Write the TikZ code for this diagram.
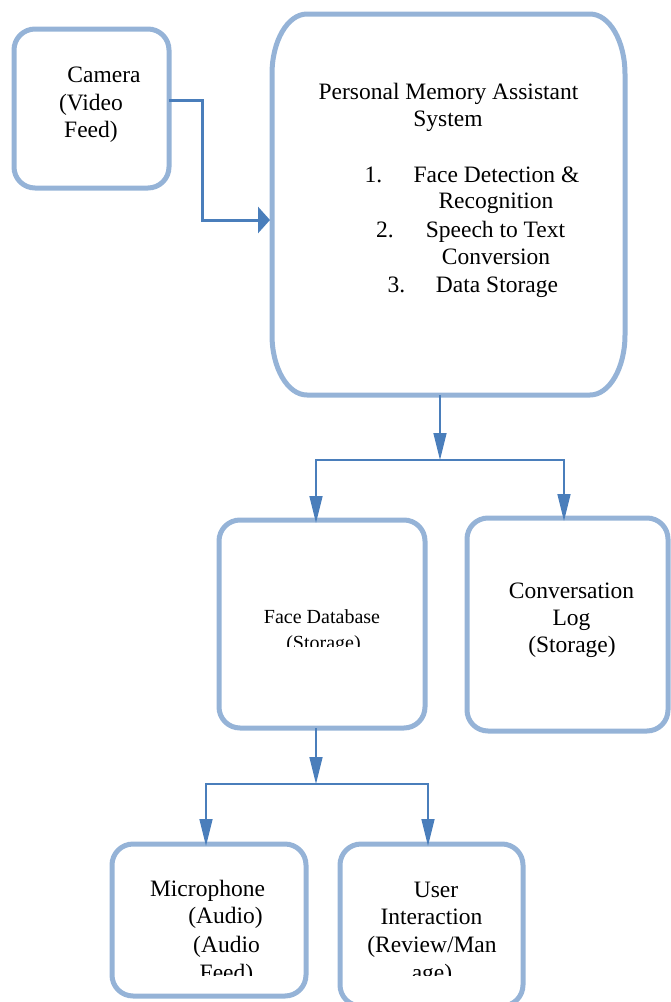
\documentclass[tikz,border=0pt]{standalone}
\usepackage{fontspec}
\setmainfont{Liberation Serif}
\usetikzlibrary{arrows.meta}
\definecolor{boxblue}{HTML}{95B3D7}
\definecolor{linkblue}{HTML}{4A7EBB}
\begin{document}
\begin{tikzpicture}[x=1pt,y=-1pt,
  boxline/.style={draw=boxblue,line width=5pt},
  rbox/.style={boxline,rounded corners=21pt,inner sep=0pt,outer sep=0pt},
  conn/.style={draw=linkblue,line width=1.5pt,-{Triangle[width=13pt,length=27pt]}},
  connplain/.style={draw=linkblue,line width=1.5pt},
  txt/.style={anchor=base,inner sep=0pt,font=\fontsize{23.5}{27}\selectfont},
  stxt/.style={anchor=base,inner sep=0pt,font=\fontsize{20}{24}\selectfont}]
\useasboundingbox (0,0) rectangle (670,1002);
% boxes
\node[rbox,minimum width=155pt,minimum height=159pt] (cam) at (91.5,108.5) {};
\node[inner sep=0pt,outer sep=0pt,minimum width=353pt,minimum height=381pt] (main) at (448.5,204.5) {};
\draw[boxline] ([xshift=35pt]main.north west) -- ([xshift=-35pt]main.north east)
  arc[start angle=90,end angle=0,x radius=35pt,y radius=60pt]
  -- ([yshift=60pt]main.south east)
  arc[start angle=0,end angle=-90,x radius=35pt,y radius=60pt]
  -- ([xshift=35pt]main.south west)
  arc[start angle=270,end angle=180,x radius=35pt,y radius=60pt]
  -- ([yshift=-60pt]main.north west)
  arc[start angle=180,end angle=90,x radius=35pt,y radius=60pt] -- cycle;
\node[rbox,minimum width=206pt,minimum height=208pt] (face) at (322,624) {};
\node[rbox,minimum width=201pt,minimum height=213pt] (conv) at (567.5,624.5) {};
\node[rbox,minimum width=194pt,minimum height=152pt] (mic) at (209,920) {};
\node[rbox,minimum width=183pt,minimum height=162pt] (user) at (431.5,925) {};
% connectors
\draw[draw=linkblue,line width=3pt,-{Triangle[width=26pt,length=12pt]}]
  ([yshift=8.5pt]cam.east) -- ++(33pt,0) |- ([xshift=-2pt,yshift=-15.5pt]main.west);
\coordinate (j1) at (440,460);
\coordinate (j2) at (316,784);
\draw[conn] ([xshift=-8.5pt]main.south) -- (j1);
\draw[conn] (j1) -| ([xshift=-6pt,yshift=-3pt]face.north);
\draw[conn] (j1) -| ([xshift=-3.5pt,yshift=-3pt]conv.north);
\draw[conn] ([xshift=-6pt]face.south) -- (j2);
\draw[conn] (j2) -| ([xshift=-3pt,yshift=-2pt]mic.north);
\draw[conn] (j2) -| ([xshift=-3.5pt,yshift=-2pt]user.north);
% texts
\node[txt] (t1) at (104,82) {Camera};
\node[txt] (t2) at (91,110) {(Video};
\node[txt] (t3) at (91,137) {Feed)};
\node[txt] (t4) at (448.5,99) {Personal Memory Assistant};
\node[txt] (t5) at (448,126) {System};
\node[txt] (t6) at (373.5,182) {1.};
\node[txt] (t7) at (496.5,182) {Face Detection \&};
\node[txt] (t8) at (496,208) {Recognition};
\node[txt] (t9) at (385,237) {2.};
\node[txt] (t10) at (495.5,237) {Speech to Text};
\node[txt] (t11) at (496,264) {Conversion};
\node[txt] (t12) at (396.5,292) {3.};
\node[txt] (t13) at (497,292) {Data Storage};
\node[stxt] (t14) at (322,623) {Face Database};
\begin{scope}
\clip (230,600) rectangle (420,646);
\node[stxt] (t15) at (323.5,649) {(Storage)};
\end{scope}
\node[txt] (t16) at (571.5,598) {Conversation};
\node[txt] (t17) at (571.5,625) {Log};
\node[txt] (t18) at (572,652) {(Storage)};
\node[txt] (t19) at (207.5,896) {Microphone};
\node[txt] (t20) at (225.5,923) {(Audio)};
\node[txt] (t21) at (226.5,952) {(Audio};
\node[txt] (t22) at (432,952) {(Review/Man};
\node[txt] (t23) at (436,897) {User};
\node[txt] (t24) at (431.5,924) {Interaction};
\begin{scope}
\clip (120,958) rectangle (520,975);
\node[txt] (t25) at (226.5,980) {Feed)};
\node[txt] (t26) at (432,980) {age)};
\end{scope}
\end{tikzpicture}
\end{document}
